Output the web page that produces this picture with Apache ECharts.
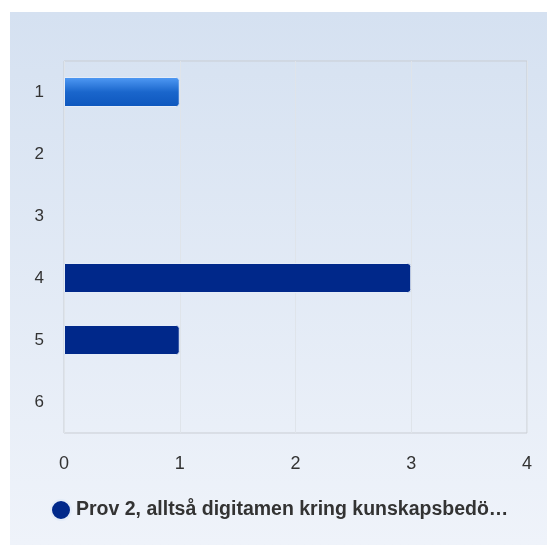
<!DOCTYPE html>
<html>
<head>
<meta charset="utf-8">
<script src="https://cdn.jsdelivr.net/npm/echarts@6/dist/echarts.min.js"></script>
<style>
html,body{margin:0;padding:0;background:#fff;}
#chart{width:547px;height:545px;}
</style>
</head>
<body>
<div id="chart"></div>
<script>
// kategorier och värden
var categories = ['1', '2', '3', '4', '5', '6'];
var values = [1, 0, 0, 3, 1, 0];
var seriesName = 'Prov 2, alltså digitamen kring kunskapsbedö…';
var xTicks = [0, 1, 2, 3, 4];

initChart();

function initChart(){
    var chart = echarts.init(document.getElementById('chart'));
    var navy = '#00288a';
    var data = values.map(function(v, i){
        var item = {value: v};
        if (v === 0) {
            item.itemStyle = {borderWidth: 0};
        } else if (i === 0) {
            // första stapeln är markerad
            item.itemStyle = {
                color: new echarts.graphic.LinearGradient(0, 0, 0, 1, [
                    {offset: 0, color: '#519bf5'},
                    {offset: 0.5, color: '#1a66cc'},
                    {offset: 1, color: '#0d56bd'}
                ])
            };
        }
        return item;
    });
    var option = {
        animation: false,
        graphic: [{
            type: 'rect',
            silent: true,
            z: -10,
            shape: {x: 10, y: 12, width: 537, height: 533},
            style: {
                fill: new echarts.graphic.LinearGradient(0, 0, 0, 1, [
                    {offset: 0, color: '#d5e1f1'},
                    {offset: 1, color: '#eff3fa'}
                ])
            }
        }],
        grid: {left: 64, top: 61, width: 463, height: 372, show: true,
            borderColor: '#c9cdd3', borderWidth: 1, backgroundColor: 'transparent'},
        legend: {
            left: 45, top: 494,
            icon: 'circle', itemWidth: 20, itemHeight: 20,
            textStyle: {fontFamily: 'Liberation Sans', fontSize: 19.5, fontWeight: 'bold', color: '#333'},
            data: [{name: seriesName, itemStyle: {color: navy}}]
        },
        xAxis: {
            type: 'value', min: xTicks[0], max: xTicks[xTicks.length - 1], interval: 1,
            axisLine: {show: false}, axisTick: {show: false},
            splitLine: {lineStyle: {color: '#dfe4ea'}},
            axisLabel: {margin: 22, fontFamily: 'Liberation Sans', fontSize: 18, color: '#333'}
        },
        yAxis: {
            type: 'category', data: categories, inverse: true,
            axisLine: {show: false}, axisTick: {show: false},
            axisLabel: {margin: 20, padding: [4, 0, 0, 0], fontFamily: 'Liberation Sans', fontSize: 17, color: '#333'}
        },
        series: [{
            name: seriesName,
            type: 'bar',
            barWidth: 30,
            data: data,
            itemStyle: {color: navy, borderColor: '#e4ecf8', borderWidth: 1, borderRadius: [0, 3, 3, 0]}
        }]
    };
    chart.setOption(option);
}
</script>
</body>
</html>
